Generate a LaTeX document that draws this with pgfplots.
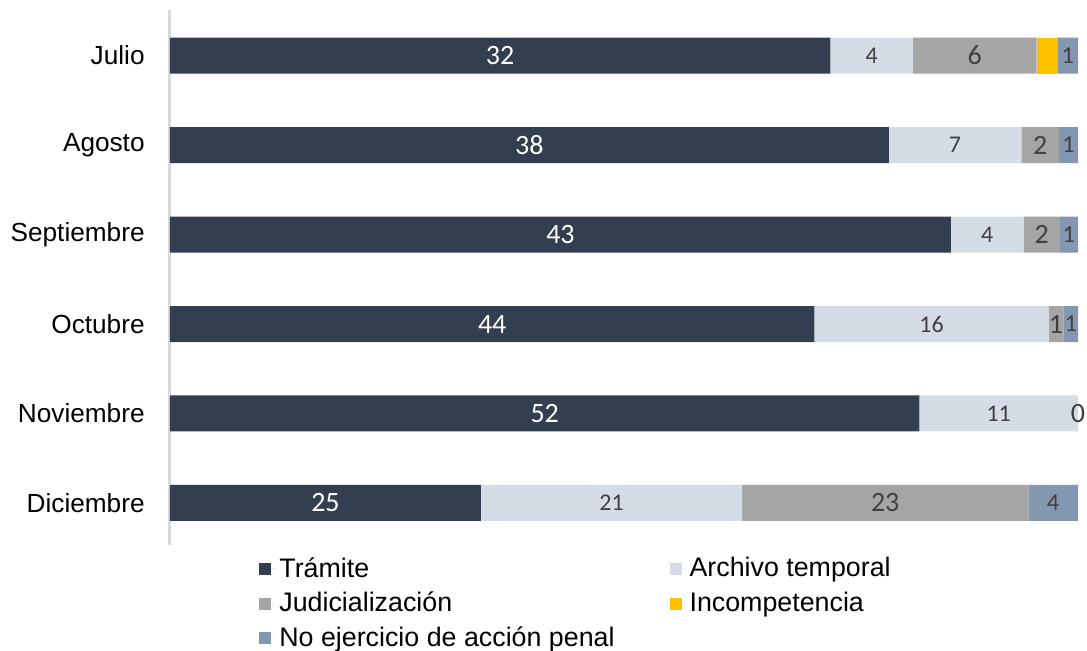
\documentclass[border=0pt]{standalone}
\usepackage{pgfplots}
\pgfplotsset{compat=1.18}
\usepackage{fontspec}
\setmainfont{Liberation Sans}
\newfontfamily\carlito{Carlito}
\definecolor{ctram}{HTML}{333F50}
\definecolor{carch}{HTML}{D6DCE5}
\definecolor{cjud}{HTML}{A5A5A5}
\definecolor{cinc}{HTML}{FFC000}
\definecolor{cnoe}{HTML}{8497B0}
\definecolor{clab}{HTML}{404040}
\pgfplotsset{
  common/.style={
    width=454pt, height=267.5pt, scale only axis,
    xmin=0, xmax=100, ymin=-0.47, ymax=5.51,
    at={(0,0)}, anchor=south west,
  }
}
\begin{document}
\begin{tikzpicture}
\useasboundingbox (-85pt,-52.5pt) rectangle (458.5pt,272.5pt);
\begin{axis}[common,
  xbar stacked, bar width=18pt,
  axis x line=none, axis y line*=left,
  y axis line style={draw=black!15, line width=1.5pt, -},
  ytick={0,1,2,3,4,5},
  yticklabels={Diciembre,Noviembre,Octubre,Septiembre,Agosto,Julio},
  major tick length=0pt,
  yticklabel style={font=\fontsize{13.1}{15}\selectfont, inner sep=0pt, xshift=-12.5pt},
  legend columns=2,
  legend cell align=left,
  legend image code/.code={\fill[#1] (0pt,-3pt) rectangle (6pt,3pt); \path (0pt,0pt) -- (8.5pt,0pt);},
  legend style={draw=none, fill=none, at={(0,0)}, anchor=north west,
    xshift=44.5pt, yshift=-4.5pt, inner sep=0pt,
    font=\fontsize{13.4}{15}\selectfont,
    nodes={inner sep=1.5pt},
    /tikz/every even column/.append style={column sep=26pt},
    row sep=3pt},
]
\addplot[fill=ctram, draw=none] coordinates {(72.727,5) (79.167,4) (86,3) (70.968,2) (82.540,1) (34.247,0)};
\addplot[fill=carch, draw=none] coordinates {(9.091,5) (14.583,4) (8,3) (25.806,2) (17.460,1) (28.767,0)};
\addplot[fill=cjud, draw=none] coordinates {(13.636,5) (4.167,4) (4,3) (1.613,2) (0,1) (31.507,0)};
\addplot[fill=cinc, draw=none] coordinates {(2.273,5) (0,4) (0,3) (0,2) (0,1) (0,0)};
\addplot[fill=cnoe, draw=none] coordinates {(2.273,5) (2.083,4) (2,3) (1.613,2) (0,1) (5.479,0)};
\legend{Trámite, Archivo temporal, Judicialización, Incompetencia, No ejercicio de acción penal}
\end{axis}
\begin{axis}[common, hide axis, clip=false, stack plots=false]
\addplot[draw=none, mark=none, nodes near coords, point meta=explicit symbolic,
  nodes near coords style={anchor=center, text=white, font=\carlito\fontsize{14}{16}\selectfont}]
  coordinates {(36.364,5) [32] (39.583,4) [38] (43,3) [43] (35.484,2) [44] (41.270,1) [52] (17.123,0) [25]};
\addplot[draw=none, mark=none, nodes near coords, point meta=explicit symbolic,
  nodes near coords style={anchor=center, text=clab, font=\carlito\fontsize{12}{14}\selectfont}]
  coordinates {(77.273,5) [4] (86.458,4) [7] (90,3) [4] (83.871,2) [16] (91.270,1) [11] (48.630,0) [21]};
\addplot[draw=none, mark=none, nodes near coords, point meta=explicit symbolic,
  nodes near coords style={anchor=center, text=clab, font=\carlito\fontsize{14}{16}\selectfont}]
  coordinates {(88.636,5) [6] (95.833,4) [2] (96,3) [2] (97.581,2) [1] (100,1) [0] (78.767,0) [23]};
\addplot[draw=none, mark=none, nodes near coords, point meta=explicit symbolic,
  nodes near coords style={anchor=center, text=clab, font=\carlito\fontsize{12.2}{14}\selectfont}]
  coordinates {(98.864,5) [1] (98.958,4) [1] (99,3) [1] (99.194,2) [1] (97.260,0) [4]};
\end{axis}
\end{tikzpicture}
\end{document}
